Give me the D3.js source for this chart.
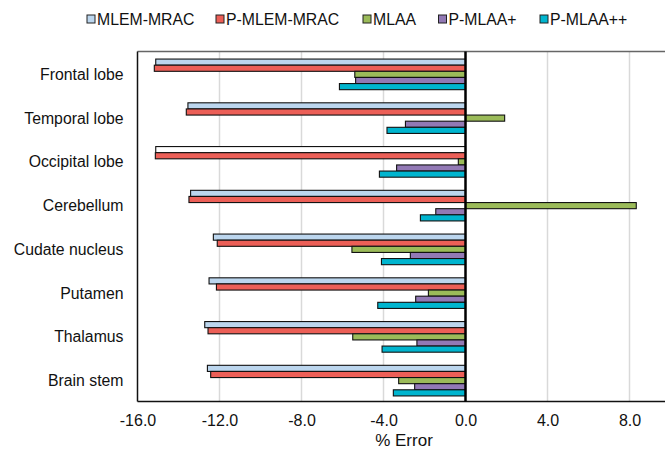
<!DOCTYPE html>
<html>
<head>
<meta charset="utf-8">
<script src="https://cdn.jsdelivr.net/npm/d3@7"></script>
<style>
  body { margin: 0; background: #fff; }
  svg { font-family: "Liberation Sans", Arial, sans-serif; display: block; }
  .tick text { font-size: 16px; fill: #111; }
</style>
</head>
<body>
<svg id="chart" width="665" height="451"></svg>
<script>
var categories = ["Frontal lobe", "Temporal lobe", "Occipital lobe", "Cerebellum",
                  "Cudate nucleus", "Putamen", "Thalamus", "Brain stem"];
var seriesNames = ["MLEM-MRAC", "P-MLEM-MRAC", "MLAA", "P-MLAA+", "P-MLAA++"];
var seriesColors = ["#bcd6ee", "#ec5f57", "#9bbb59", "#9279b5", "#00b5cf"];

// % error per region, one array per series (same order as categories)
var mlemMrac  = [-15.11, -13.54, -15.11, -13.41, -12.30, -12.51, -12.72, -12.59];
var pMlemMrac = [-15.18, -13.62, -15.13, -13.49, -12.11, -12.15, -12.56, -12.43];
var mlaa      = [-5.40, 1.91, -0.35, 8.33, -5.54, -1.81, -5.50, -3.26];
var pMlaaP    = [-5.36, -2.93, -3.36, -1.45, -2.69, -2.43, -2.37, -2.48];
var pMlaaPP   = [-6.15, -3.83, -4.20, -2.20, -4.10, -4.28, -4.07, -3.52];
var seriesValues = [mlemMrac, pMlemMrac, mlaa, pMlaaP, pMlaaPP];

var xTicks = [-16, -12, -8, -4, 0, 4, 8];

var plot = { left: 137.5, top: 51.5, bottom: 401.5, right: 670.5 };

var svg = d3.select("#chart");

var x = d3.scaleLinear().domain([-16, 10]).range([plot.left, plot.right]);
var y0 = d3.scaleBand().domain(categories).range([plot.top, plot.bottom]);
var groupH = y0.bandwidth() * 0.7;
var y1 = d3.scaleBand().domain(seriesNames).range([0, groupH]);
var groupOff = (y0.bandwidth() - groupH) / 2 + 1;

// gridlines
svg.append("g")
    .selectAll("line")
    .data(xTicks.filter(function(d) { return d !== 0 && d !== -16; }))
    .join("line")
    .attr("x1", function(d) { return x(d); })
    .attr("x2", function(d) { return x(d); })
    .attr("y1", plot.top)
    .attr("y2", plot.bottom)
    .attr("stroke", "#d9d9d9")
    .attr("stroke-width", 1.5);

// top border
svg.append("line")
    .attr("x1", plot.left).attr("x2", 665)
    .attr("y1", plot.top).attr("y2", plot.top)
    .attr("stroke", "#666").attr("stroke-width", 1.5);

// bars
var rows = [];
categories.forEach(function(c, i) {
    seriesNames.forEach(function(s, j) {
        rows.push({ cat: c, series: s, j: j, value: seriesValues[j][i] });
    });
});

svg.append("g")
    .selectAll("rect")
    .data(rows)
    .join("rect")
    .attr("x", function(d) { return x(Math.min(0, d.value)); })
    .attr("y", function(d) { return y0(d.cat) + groupOff + y1(d.series); })
    .attr("width", function(d) { return Math.abs(x(d.value) - x(0)); })
    .attr("height", y1.bandwidth())
    .attr("fill", function(d) {
        // this one bar is drawn unfilled in the original
        if (d.cat === "Occipital lobe" && d.series === "MLEM-MRAC") return "#ffffff";
        return seriesColors[d.j];
    })
    .attr("stroke", "#111")
    .attr("stroke-width", 1.1);

// x axis
var xAxis = d3.axisBottom(x)
    .tickValues(xTicks)
    .tickSize(0)
    .tickPadding(13)
    .tickFormat(d3.format(".1f"));

var gx = svg.append("g")
    .attr("transform", "translate(0," + plot.bottom + ")")
    .call(xAxis);
gx.select(".domain").remove();
gx.selectAll("text").text(function(d) { return d3.format(".1f")(d).replace("−", "-"); });

svg.append("line")
    .attr("x1", plot.left).attr("x2", 665)
    .attr("y1", plot.bottom).attr("y2", plot.bottom)
    .attr("stroke", "#111").attr("stroke-width", 1.5);

// left frame
svg.append("line")
    .attr("x1", plot.left).attr("x2", plot.left)
    .attr("y1", plot.top).attr("y2", plot.bottom)
    .attr("stroke", "#111").attr("stroke-width", 1.5);

// zero line
svg.append("line")
    .attr("x1", x(0)).attr("x2", x(0))
    .attr("y1", plot.top).attr("y2", plot.bottom)
    .attr("stroke", "#000").attr("stroke-width", 2.5);

// category labels
svg.append("g")
    .selectAll("text")
    .data(categories)
    .join("text")
    .attr("x", 123.5)
    .attr("y", function(d) { return y0(d) + y0.bandwidth() / 2 + 1; })
    .attr("dy", "0.35em")
    .attr("text-anchor", "end")
    .attr("font-size", 15.8)
    .attr("fill", "#111")
    .text(function(d) { return d; });

// axis title
svg.append("text")
    .attr("x", (plot.left + plot.right) / 2)
    .attr("y", 446)
    .attr("text-anchor", "middle")
    .attr("font-size", 17)
    .attr("fill", "#111")
    .text("% Error");

// legend
var legendX = [87, 216, 363, 438.5, 540];
var lg = svg.append("g")
    .selectAll("g")
    .data(seriesNames)
    .join("g")
    .attr("transform", function(d, i) { return "translate(" + legendX[i] + ",19)"; });
lg.append("rect")
    .attr("x", 0).attr("y", -4)
    .attr("width", 8).attr("height", 8)
    .attr("fill", function(d, i) { return seriesColors[i]; })
    .attr("stroke", "#222").attr("stroke-width", 1);
lg.append("text")
    .attr("x", 10)
    .attr("dy", "0.35em")
    .attr("font-size", 15.8)
    .attr("fill", "#111")
    .text(function(d) { return d; });
</script>
</body>
</html>
